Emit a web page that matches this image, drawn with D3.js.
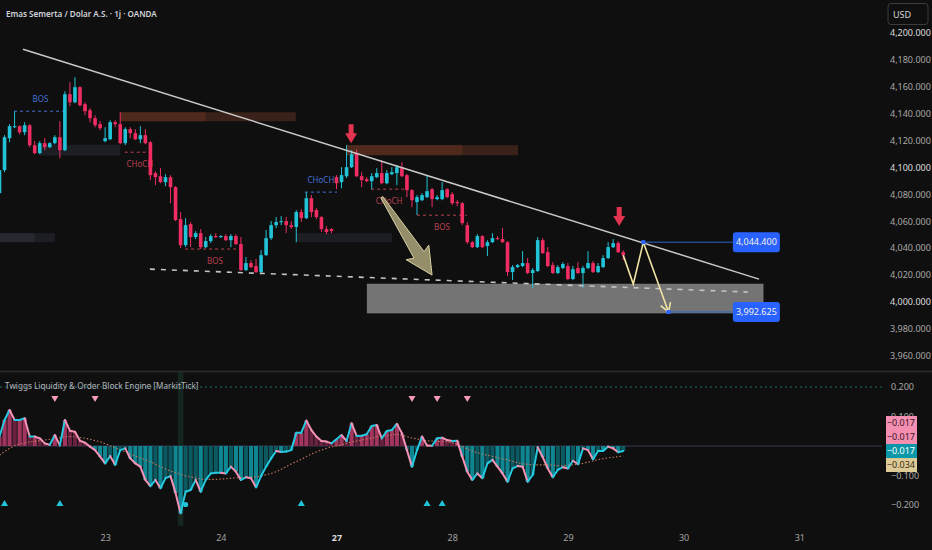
<!DOCTYPE html>
<html>
<head>
<meta charset="utf-8">
<style>
  body { margin: 0; background: #0f0f0f; font-family: "Noto Sans", sans-serif; }
  svg { display: block; }
</style>
<script src="https://d3js.org/d3.v7.min.js"></script>
</head>
<body>
<svg id="chart"></svg>
<script>
  // hourly candles (bar 0 = left edge)
  let opens = [4080.7,4097.8,4121.5,4129.6,4130.4,4125.9,4131.1,4116.3,4110.4,4117.8,
    4114.8,4117.8,4122.2,4112.6,4154.1,4148.1,4159.3,4146.7,4142.2,4136.3,
    4131.9,4119.3,4120.7,4133.3,4131.9,4117.8,4128.2,4125.2,4120.7,4123.7,
    4118.5,4095.6,4093.3,4088.9,4092.6,4085.2,4061.5,4042.2,4057.8,4048.2,
    4051.1,4040.7,4045.2,4048.9,4048.2,4048.9,4045.9,4048.9,4043.0,4023.7,
    4028.9,4026.7,4022.2,4034.8,4047.4,4057.0,4059.3,4060.0,4057.0,4055.6,
    4066.7,4062.2,4077.0,4068.2,4063.0,4054.1,4054.1,4092.6,4088.9,4093.3,
    4100.0,4110.4,4093.3,4091.1,4089.6,4092.6,4095.6,4088.1,4094.8,4095.6,
    4100.0,4094.1,4083.0,4074.1,4075.5,4077.8,4083.7,4076.3,4076.3,4083.7,
    4080.0,4074.1,4073.3,4057.0,4044.4,4040.7,4048.9,4041.5,4044.4,4047.4,
    4046.7,4044.4,4022.2,4025.9,4026.7,4028.9,4021.5,4023.0,4045.9,4037.0,
    4027.4,4021.5,4025.2,4026.7,4017.1,4025.2,4021.5,4025.2,4028.9,4022.2,
    4025.9,4032.6,4040.7,4043.7,4037.0]
  let highs = [4099.3,4123.7,4131.9,4141.5,4131.1,4133.3,4131.9,4119.3,4119.3,4121.5,
    4118.5,4123.7,4134.1,4156.3,4163.0,4166.7,4160.0,4148.1,4143.7,4138.5,
    4134.1,4129.6,4134.8,4134.8,4140.7,4129.6,4129.6,4128.2,4130.4,4128.2,
    4119.3,4097.0,4099.3,4094.8,4094.1,4085.9,4066.7,4062.2,4059.3,4052.6,
    4054.1,4048.2,4050.4,4051.1,4049.6,4050.4,4050.4,4050.4,4048.2,4033.3,
    4031.1,4031.9,4038.5,4053.4,4060.0,4063.0,4063.7,4063.0,4060.0,4068.2,
    4068.9,4081.5,4079.3,4069.6,4063.7,4056.3,4054.8,4094.1,4100.0,4116.3,
    4112.6,4113.3,4096.3,4092.6,4095.6,4099.3,4105.2,4097.8,4100.0,4101.5,
    4103.7,4094.8,4083.7,4079.3,4080.7,4094.1,4084.4,4079.3,4088.9,4084.4,
    4081.5,4075.5,4074.1,4059.3,4045.2,4050.4,4049.6,4045.9,4051.1,4048.9,
    4054.8,4045.2,4027.4,4028.2,4037.8,4032.6,4025.2,4048.2,4047.4,4040.7,
    4029.6,4027.4,4029.6,4028.9,4026.7,4029.6,4026.7,4037.8,4030.4,4028.9,
    4034.8,4044.4,4046.7,4045.2,4038.5]
  let lows = [4078.5,4096.3,4118.5,4128.9,4124.4,4123.7,4114.8,4109.6,4109.6,4112.6,
    4114.1,4117.0,4106.7,4111.9,4145.2,4147.4,4145.2,4138.5,4133.3,4129.6,
    4127.4,4118.5,4120.0,4129.6,4117.0,4116.3,4121.5,4120.0,4117.8,4117.0,
    4090.4,4086.7,4088.1,4085.9,4073.3,4060.0,4040.0,4040.7,4040.7,4046.7,
    4039.3,4040.0,4043.7,4047.4,4047.4,4045.2,4040.7,4042.2,4023.0,4023.0,
    4025.2,4021.5,4021.5,4034.1,4045.9,4054.8,4057.0,4051.1,4054.1,4044.4,
    4059.3,4061.5,4063.0,4061.5,4051.9,4050.4,4051.1,4083.7,4084.4,4091.9,
    4099.3,4092.6,4085.2,4088.9,4083.7,4091.9,4087.4,4087.4,4094.1,4086.7,
    4092.6,4077.8,4070.4,4064.5,4074.8,4077.0,4070.4,4075.5,4075.5,4077.0,
    4071.9,4071.1,4057.0,4043.0,4040.0,4040.0,4040.0,4034.1,4043.7,4045.9,
    4043.7,4019.3,4016.3,4025.2,4025.9,4020.8,4010.4,4022.2,4035.6,4025.9,
    4020.8,4020.8,4024.4,4016.3,4016.3,4020.8,4010.4,4024.4,4021.5,4021.5,
    4025.2,4031.9,4040.0,4036.3,4031.1]
  let closes = [4097.8,4122.2,4130.4,4130.4,4125.9,4131.1,4116.3,4110.4,4117.8,4114.8,
    4117.8,4122.2,4112.6,4154.1,4148.1,4159.3,4145.9,4141.5,4136.3,4131.1,
    4128.9,4121.5,4133.3,4131.9,4117.8,4128.2,4125.2,4120.7,4123.7,4117.8,
    4094.1,4092.6,4088.9,4092.6,4085.2,4060.8,4042.2,4057.0,4048.2,4051.1,
    4040.7,4045.2,4048.9,4048.2,4048.9,4045.9,4048.9,4043.0,4023.7,4028.9,
    4025.9,4022.2,4034.8,4047.4,4057.0,4059.3,4060.0,4057.0,4055.6,4066.7,
    4062.2,4077.0,4066.7,4063.0,4054.1,4051.9,4052.6,4088.1,4094.1,4100.0,
    4109.6,4093.3,4090.4,4089.6,4093.3,4095.6,4088.1,4095.6,4096.3,4100.0,
    4093.3,4083.0,4075.5,4077.8,4079.3,4082.2,4076.3,4077.8,4083.0,4077.8,
    4073.3,4073.3,4058.5,4044.4,4040.7,4048.9,4040.7,4044.4,4047.4,4046.7,
    4044.4,4022.2,4025.9,4027.4,4028.9,4021.5,4023.7,4045.9,4036.3,4026.7,
    4021.5,4025.9,4028.2,4017.1,4024.4,4021.5,4025.2,4028.9,4022.2,4026.7,
    4032.6,4040.7,4043.7,4037.0,4034.8]

  // indicator pane: oscillator and its dotted signal
  let osc = [0.032,0.088,0.122,0.088,0.088,0.094,0.032,0.032,0.026,0.009,
    0.004,0.037,0.002,0.088,0.052,0.048,0.018,0.011,-0.002,-0.014,
    -0.036,-0.059,-0.034,-0.064,-0.014,-0.008,-0.042,-0.059,-0.070,-0.115,
    -0.136,-0.115,-0.143,-0.109,-0.102,-0.159,-0.228,-0.155,-0.149,-0.115,
    -0.155,-0.115,-0.093,-0.091,-0.091,-0.093,-0.070,-0.087,-0.115,-0.106,
    -0.109,-0.140,-0.102,-0.070,-0.042,-0.017,-0.020,-0.019,-0.014,0.045,
    0.045,0.086,0.054,0.032,0.017,0.015,0.009,0.023,0.037,0.017,
    0.077,0.034,0.035,0.040,0.068,0.071,0.026,0.051,0.054,0.075,
    0.043,-0.014,-0.070,-0.014,0.032,0.002,0.001,0.026,0.028,0.020,
    0.017,0.018,-0.036,-0.087,-0.115,-0.093,-0.109,-0.059,-0.047,-0.070,
    -0.093,-0.121,-0.076,-0.068,-0.070,-0.121,-0.098,-0.004,-0.038,-0.076,
    -0.106,-0.081,-0.072,-0.076,-0.050,-0.062,-0.008,-0.014,-0.045,-0.017,
    -0.017,-0.002,-0.008,-0.021,-0.017]
  let signal = [-0.031,-0.019,-0.008,0.001,0.007,0.010,0.014,0.016,0.018,0.020,
    0.023,0.025,0.028,0.032,0.032,0.031,0.029,0.026,0.023,0.018,
    0.015,0.008,0.001,-0.006,-0.014,-0.020,-0.027,-0.034,-0.041,-0.047,
    -0.053,-0.061,-0.070,-0.078,-0.085,-0.091,-0.096,-0.102,-0.105,-0.108,
    -0.112,-0.113,-0.113,-0.113,-0.112,-0.111,-0.109,-0.108,-0.107,-0.106,
    -0.106,-0.105,-0.102,-0.097,-0.093,-0.087,-0.079,-0.070,-0.061,-0.053,
    -0.045,-0.036,-0.027,-0.020,-0.014,-0.008,-0.003,0.000,0.004,0.009,
    0.014,0.017,0.020,0.024,0.027,0.031,0.033,0.035,0.037,0.040,
    0.037,0.032,0.027,0.024,0.020,0.018,0.017,0.016,0.015,0.014,
    0.011,0.006,-0.001,-0.011,-0.017,-0.023,-0.027,-0.031,-0.035,-0.040,
    -0.043,-0.047,-0.052,-0.057,-0.060,-0.062,-0.064,-0.064,-0.064,-0.064,
    -0.065,-0.067,-0.067,-0.065,-0.064,-0.061,-0.059,-0.055,-0.051,-0.046,
    -0.043,-0.040,-0.038,-0.036,-0.034]
  let sellMarks = [11, 19, 82, 87, 93]
  let buyMarks = [1, 12, 60, 85, 88]
  let extremeBar = 36
  let extremeDot = 37

  // axis ticks
  let dayBars = [21, 44, 67, 90, 113, 136, 159]
  let dayLabels = ["23", "24", "27", "28", "29", "30", "31"]
  let priceTicks = d3.range(3960, 4201, 20)
  let oscTicks = [0.2, 0.1, -0.1, -0.2]

  // drawings on the price pane, as [bar, price]
  let trendLine = [[4.67, 4187.4], [151, 4017.0]]
  let supportLine = [[29.9, 4024.4], [148.8, 4007.4]]
  let demandZone = [73.1, 151.8, 4013.3, 3991.9]
  // [from, freshUntil, to, top, bottom]
  let supplyZones = [[24, 41, 58.9, 4140.7, 4134.1], [68.9, 92, 103.1, 4116.3, 4108.9]]
  let orderBlocks = [[-2, 7, 11, 4051.1, 4044.4], [8, 8, 24, 4116.7, 4108.6], [59, 59, 78, 4051.1, 4044.4]]
  let structNames = ["BOS", "CHoCH", "BOS", "CHoCH", "CHoCH", "BOS"]
  let structBull = [true, false, false, true, false, false]
  let structFrom = [2.9, 24.9, 36.9, 60.7, 73.9, 83]
  let structTo = [13.4, 30.9, 48.8, 67.1, 81, 92.9]
  let structPrice = [4141.5, 4111.1, 4039.3, 4081.5, 4083.7, 4064.4]
  let downArrows = [[69.9, 4117.8], [123.2, 4056.3]]
  let bigArrow = [[76.0, 4077.8], [86.0, 4020.0]]
  let projection = [[124, 4034.8], [126, 4013.3], [128, 4044.4], [133, 3992.625]]
  let targetLabelBar = 145.8

  function getConfig() {
    let width = 932, height = 550
    let plotRight = 882
    let mainTop = 0, mainBottom = 371
    let indTop = 372, indBottom = 526
    let svg = d3.select("#chart").attr("width", width).attr("height", height)
    return { width, height, plotRight, mainTop, mainBottom, indTop, indBottom, svg }
  }

  function getScales() {
    let x = d3.scaleLinear().domain([0, 160]).range([-0.5, 804.3])
    let y = d3.scaleLinear().domain([3960, 4200]).range([356, 32.3])
    let yOsc = d3.scaleLinear().domain([-0.2, 0.2]).range([505, 387])
    return { x, y, yOsc }
  }

  const BULL = "#22c3d8", BEAR = "#ef2d63"
  const fmtPrice = d3.format(",.3f")
  const fmtOsc = d3.format(".3f")

  function drawBackground(config) {
    let { svg, width, height, mainBottom } = config
    svg.append("rect").attr("width", width).attr("height", height).attr("fill", "#0f0f0f")
    svg.append("line").attr("x1", 0).attr("x2", width)
      .attr("y1", mainBottom + 0.5).attr("y2", mainBottom + 0.5)
      .attr("stroke", "#2c2c2c").attr("stroke-width", 1.5)
    let defs = svg.append("defs")
    defs.append("clipPath").attr("id", "mainClip").append("rect")
      .attr("x", 0).attr("y", 0).attr("width", config.plotRight).attr("height", mainBottom)
    defs.append("clipPath").attr("id", "indClip").append("rect")
      .attr("x", 0).attr("y", config.indTop).attr("width", config.plotRight).attr("height", config.indBottom - config.indTop)
  }

  function drawZones(g, scales) {
    let { x, y } = scales
    g.selectAll(".ob").data(orderBlocks).join("rect")
      .attr("x", d => x(d[0])).attr("width", d => x(d[2]) - x(d[0]))
      .attr("y", d => y(d[3])).attr("height", d => y(d[4]) - y(d[3]))
      .attr("fill", "#1d1e24")
    g.selectAll(".obFresh").data(orderBlocks).join("rect")
      .attr("x", d => x(d[0])).attr("width", d => Math.max(0, x(d[1]) - x(d[0])))
      .attr("y", d => y(d[3])).attr("height", d => y(d[4]) - y(d[3]))
      .attr("fill", "#272830")
    g.selectAll(".sz").data(supplyZones).join("rect")
      .attr("x", d => x(d[0])).attr("width", d => x(d[2]) - x(d[0]))
      .attr("y", d => y(d[3])).attr("height", d => y(d[4]) - y(d[3]))
      .attr("fill", "#3a2119")
    g.selectAll(".szFresh").data(supplyZones).join("rect")
      .attr("x", d => x(d[0])).attr("width", d => x(d[1]) - x(d[0]))
      .attr("y", d => y(d[3])).attr("height", d => y(d[4]) - y(d[3]))
      .attr("fill", "#4f2a1c")
    g.append("rect")
      .attr("x", x(demandZone[0])).attr("width", x(demandZone[1]) - x(demandZone[0]))
      .attr("y", y(demandZone[2])).attr("height", y(demandZone[3]) - y(demandZone[2]))
      .attr("fill", "#747474").attr("stroke", "#8a8a8a").attr("stroke-width", 0.6)
  }

  function drawStructure(g, scales) {
    let { x, y } = scales
    let idx = d3.range(structNames.length)
    let col = i => structBull[i] ? "#4470d6" : "#b8414f"
    g.selectAll(".st").data(idx).join("line")
      .attr("x1", i => x(structFrom[i])).attr("x2", i => x(structTo[i]))
      .attr("y1", i => y(structPrice[i])).attr("y2", i => y(structPrice[i]))
      .attr("stroke", col).attr("stroke-width", 1).attr("stroke-dasharray", "3,3")
    g.selectAll(".stl").data(idx).join("text")
      .attr("x", i => x((structFrom[i] + structTo[i]) / 2))
      .attr("y", i => y(structPrice[i]) + (structBull[i] ? -9 : 15))
      .attr("text-anchor", "middle")
      .attr("font-size", 8).attr("fill", col)
      .text(i => structNames[i])
  }

  function drawCandles(g, scales) {
    let { x, y } = scales
    let bars = d3.range(opens.length)
    let col = i => closes[i] >= opens[i] ? BULL : BEAR
    g.selectAll(".wick").data(bars).join("line")
      .attr("x1", i => x(i)).attr("x2", i => x(i))
      .attr("y1", i => y(highs[i])).attr("y2", i => y(lows[i]))
      .attr("stroke", col).attr("stroke-width", 1)
    g.selectAll(".body").data(bars).join("rect")
      .attr("x", i => x(i) - 1.8).attr("width", 3.6)
      .attr("y", i => y(Math.max(opens[i], closes[i])))
      .attr("height", i => Math.max(1, Math.abs(y(opens[i]) - y(closes[i]))))
      .attr("fill", col)
  }

  function fatArrow(t, p, headLen, headHalf, shaftHalf, tailHalf) {
    let dx = p[0] - t[0], dy = p[1] - t[1], L = Math.hypot(dx, dy)
    let ux = dx / L, uy = dy / L, nx = -uy, ny = ux
    let bx = p[0] - ux * headLen, by = p[1] - uy * headLen
    let pts = [
      [t[0] + nx * tailHalf, t[1] + ny * tailHalf],
      [bx + nx * shaftHalf, by + ny * shaftHalf],
      [bx + nx * headHalf - ux * 3, by + ny * headHalf - uy * 3],
      p,
      [bx - nx * headHalf - ux * 3, by - ny * headHalf - uy * 3],
      [bx - nx * shaftHalf, by - ny * shaftHalf],
      [t[0] - nx * tailHalf, t[1] - ny * tailHalf]
    ]
    return "M" + pts.map(q => q.join(",")).join("L") + "Z"
  }

  function drawDrawings(g, scales, config) {
    let { x, y } = scales
    let line = d3.line().x(d => x(d[0])).y(d => y(d[1]))
    g.append("path").attr("d", line(trendLine))
      .attr("stroke", "#c9c9c9").attr("stroke-width", 1.5).attr("fill", "none")
    g.append("path").attr("d", line(supportLine))
      .attr("stroke", "#c4c4c4").attr("stroke-width", 1.6).attr("fill", "none")
      .attr("stroke-dasharray", "5,6")

    // red arrows above swing highs
    g.selectAll(".dn").data(downArrows).join("path")
      .attr("transform", d => `translate(${x(d[0])},${y(d[1])})`)
      .attr("d", "M0,0 L-6,-10 L-2.5,-10 L-2.5,-19 L2.5,-19 L2.5,-10 L6,-10 Z")
      .attr("fill", "#e2334f")

    // khaki move arrow
    let t = [x(bigArrow[0][0]), y(bigArrow[0][1])]
    let p = [x(bigArrow[1][0]), y(bigArrow[1][1])]
    g.append("path").attr("d", fatArrow(t, p, 24, 13.5, 6, 1.2))
      .attr("fill", "#a49c76").attr("fill-opacity", 0.9)
      .attr("stroke", "#d8cf9f").attr("stroke-width", 1)

    // projected path
    g.append("path").attr("d", line(projection))
      .attr("stroke", "#efe4a6").attr("stroke-width", 1.6).attr("fill", "none")
    let a = projection[projection.length - 2], b = projection[projection.length - 1]
    let ax = x(a[0]), ay = y(a[1]), bx = x(b[0]), by = y(b[1])
    let ang = Math.atan2(by - ay, bx - ax)
    let head = [ang + Math.PI - 0.55, ang + Math.PI + 0.55].map(q => [bx + 10 * Math.cos(q), by + 10 * Math.sin(q)])
    g.append("path").attr("d", `M${head[0]}L${bx},${by}L${head[1]}`)
      .attr("stroke", "#efe4a6").attr("stroke-width", 1.6).attr("fill", "none")

    // target levels
    let targets = [projection[2], projection[3]]
    g.selectAll(".tl").data(targets).join("line")
      .attr("x1", d => x(d[0])).attr("x2", x(targetLabelBar))
      .attr("y1", d => y(d[1])).attr("y2", d => y(d[1]))
      .attr("stroke", "#2a66c8").attr("stroke-width", 1)
    g.selectAll(".td").data(targets).join("rect")
      .attr("x", d => x(d[0]) - 2).attr("y", d => y(d[1]) - 2)
      .attr("width", 4).attr("height", 4).attr("fill", "#2962ff")
    let lbl = g.selectAll(".tb").data(targets).join("g")
      .attr("transform", d => `translate(${x(targetLabelBar)},${y(d[1])})`)
    lbl.append("rect").attr("x", 0).attr("y", -10).attr("width", 47).attr("height", 20)
      .attr("rx", 3).attr("fill", "#2962ff")
    lbl.append("text").attr("x", 23.5).attr("y", 3.2).attr("text-anchor", "middle")
      .attr("font-size", 9).attr("fill", "#f4f1e4").text(d => fmtPrice(d[1]))
  }

  function drawPriceAxis(config, scales) {
    let { svg } = config
    let axis = d3.axisRight(scales.y).tickValues(priceTicks).tickFormat(fmtPrice).tickSize(0).tickPadding(4)
    let g = svg.append("g").attr("transform", "translate(886,0)").call(axis)
    g.select(".domain").remove()
    g.selectAll("text").attr("font-size", 9).attr("font-family", "Noto Sans")
      .attr("fill", d => d % 100 === 0 ? "#dedede" : "#a8a8a8")
    svg.append("rect").attr("x", 888).attr("y", 3.5).attr("width", 40).attr("height", 21)
      .attr("rx", 3).attr("fill", "none").attr("stroke", "#3c3c3c")
    svg.append("text").attr("x", 893).attr("y", 17.5).attr("font-size", 9)
      .attr("fill", "#d6d6d6").text("USD")
    svg.append("text").attr("x", 6).attr("y", 17).attr("font-size", 8.1).attr("font-weight", 600)
      .attr("fill", "#d1d4dc").text("Emas Semerta / Dolar A.S. · 1j · OANDA")
  }

  function drawIndicator(config, scales) {
    let { svg, indTop, indBottom } = config
    let { x, yOsc } = scales
    let g = svg.append("g").attr("clip-path", "url(#indClip)")

    g.append("rect").attr("x", x(extremeBar) - 2.8).attr("width", 5.6)
      .attr("y", indTop).attr("height", indBottom - indTop).attr("fill", "#15251f")

    g.append("line").attr("x1", 0).attr("x2", config.plotRight)
      .attr("y1", yOsc(0.2)).attr("y2", yOsc(0.2))
      .attr("stroke", "#1e6c72").attr("stroke-dasharray", "2,3")
    g.append("line").attr("x1", 0).attr("x2", config.plotRight)
      .attr("y1", yOsc(0)).attr("y2", yOsc(0))
      .attr("stroke", "#3b3954").attr("stroke-width", 1.2)

    let bars = d3.range(osc.length)
    g.selectAll(".hist").data(bars).join("rect")
      .attr("x", i => x(i) - 2.1).attr("width", 4.2)
      .attr("y", i => Math.min(yOsc(osc[i]), yOsc(0)))
      .attr("height", i => Math.abs(yOsc(osc[i]) - yOsc(0)))
      .attr("fill", i => {
        let prev = i > 0 ? osc[i - 1] : osc[i]
        let strong = Math.abs(osc[i]) >= Math.abs(prev)
        if (osc[i] >= 0) return strong ? "#a1355e" : "#68223f"
        return strong ? "#0f8793" : "#0b5a62"
      })

    g.append("path").datum(signal)
      .attr("d", d3.line().x((d, i) => x(i)).y(d => yOsc(d)))
      .attr("fill", "none").attr("stroke", "#c47a5e").attr("stroke-width", 1.1)
      .attr("stroke-dasharray", "1.5,2")

    g.selectAll(".seg").data(bars.slice(1)).join("line")
      .attr("x1", i => x(i - 1)).attr("x2", i => x(i))
      .attr("y1", i => yOsc(osc[i - 1])).attr("y2", i => yOsc(osc[i]))
      .attr("stroke", i => osc[i] >= osc[i - 1] ? "#25c9df" : "#f393b6")
      .attr("stroke-width", 2).attr("stroke-linecap", "round")

    g.selectAll(".sell").data(sellMarks).join("path")
      .attr("transform", i => `translate(${x(i)},${indTop + 26}) rotate(180)`)
      .attr("d", d3.symbol(d3.symbolTriangle, 22)).attr("fill", "#f59ab8")
    g.selectAll(".buy").data(buyMarks).join("path")
      .attr("transform", i => `translate(${x(i)},${indBottom - 22})`)
      .attr("d", d3.symbol(d3.symbolTriangle, 22)).attr("fill", "#22c3d8")
    g.append("circle").attr("cx", x(extremeDot)).attr("cy", indBottom - 21.5).attr("r", 2.6)
      .attr("fill", "#22c3d8")

    svg.append("text").attr("x", 5).attr("y", indTop + 17).attr("font-size", 8.2)
      .attr("fill", "#b4b6bd").text("Twiggs Liquidity & Order Block Engine [MarkitTick]")

    let axis = d3.axisRight(yOsc).tickValues(oscTicks).tickFormat(fmtOsc).tickSize(0).tickPadding(5)
    let ga = svg.append("g").attr("transform", "translate(886,0)").call(axis)
    ga.select(".domain").remove()
    ga.selectAll("text").attr("font-size", 9).attr("font-family", "Noto Sans").attr("fill", "#a8a8a8")

    // last-value labels, stacked around the oscillator value
    let last = osc[osc.length - 1]
    let lastSig = signal[signal.length - 1]
    let tags = [
      { v: last, bg: "#f58fb2", fg: "#3a1426" },
      { v: last, bg: "#f58fb2", fg: "#3a1426" },
      { v: last, bg: "#0b97a8", fg: "#ffffff" },
      { v: lastSig, bg: "#dccb96", fg: "#3c2a12" }
    ]
    let base = yOsc(last)
    let tg = svg.selectAll(".tag").data(tags).join("g")
      .attr("transform", (d, i) => `translate(886,${base + (i - 2) * 14 - 7})`)
    tg.append("rect").attr("width", 31).attr("height", 14).attr("fill", d => d.bg)
    tg.append("text").attr("x", 29).attr("y", 10.3).attr("text-anchor", "end")
      .attr("font-size", 9).attr("fill", d => d.fg).text(d => fmtOsc(d.v))
  }

  function drawTimeAxis(config, scales) {
    let axis = d3.axisBottom(scales.x).tickValues(dayBars)
      .tickFormat((d, i) => dayLabels[i]).tickSize(0).tickPadding(0)
    let g = config.svg.append("g").attr("transform", "translate(0,535)").call(axis)
    g.select(".domain").remove()
    g.selectAll("text").attr("font-size", 9).attr("font-family", "Noto Sans")
      .attr("fill", (d, i) => dayLabels[i] === "27" ? "#dcdcdc" : "#a3a3a3")
      .attr("font-weight", (d, i) => dayLabels[i] === "27" ? 700 : 400)
  }

  function drawChart() {
    let config = getConfig()
    let scales = getScales()
    drawBackground(config)
    let main = config.svg.append("g").attr("clip-path", "url(#mainClip)")
    drawZones(main, scales)
    drawStructure(main, scales)
    drawCandles(main, scales)
    drawDrawings(main, scales, config)
    drawPriceAxis(config, scales)
    drawIndicator(config, scales)
    drawTimeAxis(config, scales)
  }

  drawChart()
</script>
</body>
</html>
